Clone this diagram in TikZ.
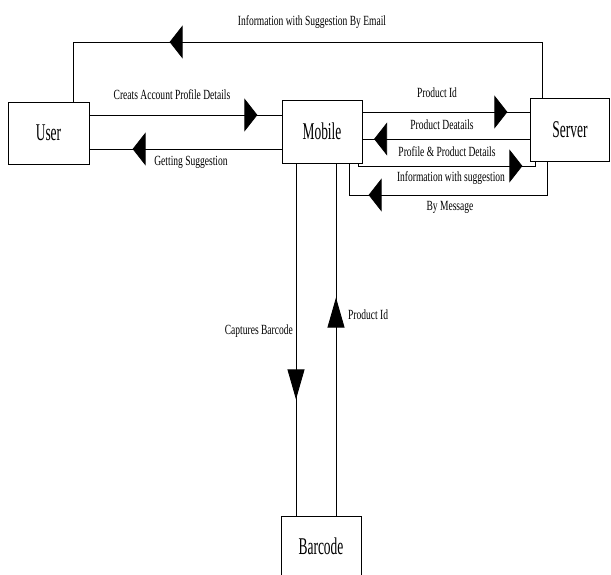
\documentclass[tikz,border=0pt]{standalone}
\usepackage{fontspec}
\setmainfont{Liberation Serif}
\newfontfamily\boxfont{Liberation Serif}[FakeStretch=0.56]
\newfontfamily\labfont{Liberation Serif}[FakeStretch=0.68]
\usetikzlibrary{arrows.meta,decorations.markings}
\tikzset{
  hTri/.tip={Triangle[length=13pt,width=33pt]},
  vTri/.tip={Triangle[length=30pt,width=17pt]},
  box/.style={draw,line width=0.8pt,minimum width=80pt,minimum height=62pt,inner sep=0pt,font=\boxfont\fontsize{24}{26}\selectfont},
  lab/.style={inner sep=0pt,font=\labfont\fontsize{14}{16}\selectfont},
  conn/.style={line width=0.8pt},
  harrow/.style={postaction={decorate,decoration={markings,mark=at position #1 with {\arrow{hTri}}}}},
  varrow/.style={postaction={decorate,decoration={markings,mark=at position #1 with {\arrow{vTri}}}}},
}
\begin{document}
\begin{tikzpicture}[x=1pt,y=-1pt]
\useasboundingbox (0,0) rectangle (611,575);
% boxes
\node[box,minimum width=81pt] (user) at (48.5,133) {User};
\node[box,minimum height=63pt] (mobile) at (322,131.5) {Mobile};
\node[box,minimum height=63pt,minimum width=79pt] (server) at (570,129.5) {Server};
\node[box,minimum height=60pt] (barcode) at (321,546) {Barcode};
% helper coordinates
\coordinate (e1) at (73,42);
\coordinate (e2) at (542,42);
\coordinate (y1) at (0,115);
\coordinate (y2) at (0,149);
\coordinate (y3) at (0,112);
\coordinate (y4) at (0,139);
\coordinate (p1) at (358,166);
\coordinate (p2) at (535,166);
\coordinate (q1) at (547,195);
\coordinate (q2) at (349,195);
\coordinate (v1) at (296,0);
\coordinate (v2) at (336,0);
% connectors
\draw[conn,harrow=428pt] (server.north -| e2) -- (e2) -- (e1) -- (user.north -| e1);
\draw[conn,harrow=168pt] (user.east |- y1) -- (mobile.west |- y1);
\draw[conn,harrow=149pt] (mobile.west |- y2) -- (user.east |- y2);
\draw[conn,harrow=145pt] (mobile.east |- y3) -- (server.west |- y3);
\draw[conn,harrow=156pt] (server.west |- y4) -- (mobile.east |- y4);
\draw[conn,harrow=167pt] (mobile.south -| p1) -- (p1) -- (p2) -- (server.south -| p2);
\draw[conn,harrow=212pt] (server.south -| q1) -- (q1) -- (q2) -- (mobile.south -| q2);
\draw[conn,varrow=236pt] (mobile.south -| v1) -- (barcode.north -| v1);
\draw[conn,varrow=218pt] (barcode.north -| v2) -- (mobile.south -| v2);
% labels
\node[lab] (l1) at (312,22) {Information with Suggestion By Email};
\node[lab] (l2) at (172,95) {Creats Account Profile Details};
\node[lab] (l3) at (191,162) {Getting Suggestion};
\node[lab] (l4) at (437,93) {Product Id};
\node[lab] (l5) at (442,125) {Product Deatails};
\node[lab] (l6) at (447,152) {Profile \& Product Details};
\node[lab] (l7) at (451,178) {Information with suggestion};
\node[lab] (l8) at (450,207) {By Message};
\node[lab,anchor=east] (l9) at (293,331) {Captures Barcode};
\node[lab,anchor=west] (l10) at (348,315) {Product Id};
\end{tikzpicture}
\end{document}
